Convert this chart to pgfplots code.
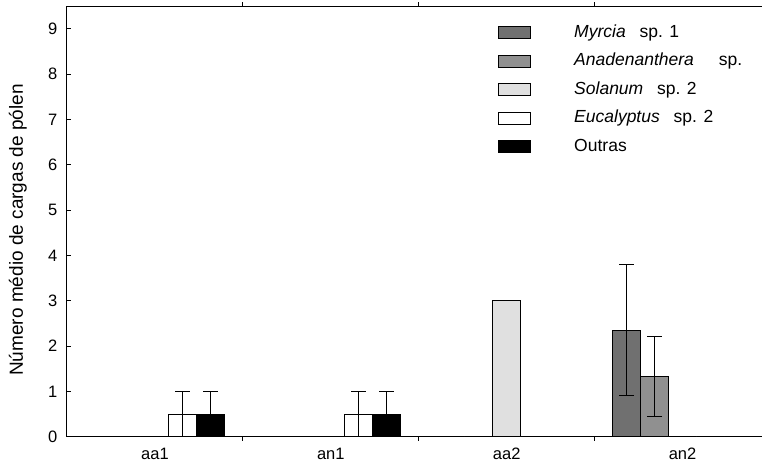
\documentclass[border=0pt]{standalone}
\usepackage{pgfplots}
\pgfplotsset{compat=1.18}
\usepackage{fontspec}
\setmainfont{Liberation Sans}
\definecolor{cMyr}{HTML}{707070}
\definecolor{cAna}{HTML}{909090}
\definecolor{cSol}{HTML}{E0E0E0}
\begin{document}
\fontsize{16.5}{19}\selectfont
\begin{tikzpicture}
\begin{axis}[
  at={(0,0)}, anchor=south west,
  scale only axis, width=703.5pt, height=430.7pt,
  xmin=0, xmax=4, ymin=0, ymax=9.5,
  axis line style={line width=1pt},
  xtick={0.5,1.5,2.5,3.5},
  xticklabels={aa1,an1,aa2,an2},
  major x tick style={draw=none},
  minor xtick={1,2,3},
  minor tick length=4pt,
  major tick length=4pt,
  tick align=inside,
  tick style={black, line width=0.8pt},
  ytick={0,1,...,9},
  /pgf/number format/assume math mode=true,
  yticklabel style={xshift=-4pt},
  xticklabel style={yshift=-2pt},
  ylabel={\fontsize{19}{22}\selectfont Número médio de cargas de pólen},
  ylabel style={at={(axis description cs:-0.0697,0.48)}, anchor=center},
  ybar, bar width=28pt,
  every axis plot/.append style={draw=black, line width=1pt},
  error bars/y dir=both, error bars/y explicit,
  error bars/error mark=|,
  error bars/error mark options={mark size=7.5pt, line width=1pt, black},
  error bars/error bar style={line width=1pt, black},
  legend cell align=left,
  legend image code/.code={\draw[#1, draw=black, line width=1pt] (0pt,-6pt) rectangle (32pt,6pt);},
  legend style={draw=none, fill=none, at={(0.6127,0.9556)}, anchor=north west,
    inner sep=0pt, row sep=13.5pt, font=\fontsize{17.5}{20}\selectfont,
    nodes={inner sep=0pt, text height=12pt, text depth=3pt},
    /tikz/every odd column/.append style={column sep=43pt}},
]
\addplot[fill=cMyr, bar shift=-56pt] coordinates {(0.5,0) +- (0,0) (1.5,0) +- (0,0) (2.5,0) +- (0,0) (3.5,2.35) +- (0,1.45)};
\addplot[fill=cAna, bar shift=-28pt] coordinates {(0.5,0) +- (0,0) (1.5,0) +- (0,0) (2.5,0) +- (0,0) (3.5,1.32) +- (0,0.88)};
\addplot[fill=cSol, bar shift=0pt] coordinates {(0.5,0) +- (0,0) (1.5,0) +- (0,0) (2.5,3.0) +- (0,0) (3.5,0) +- (0,0)};
\addplot[fill=white, bar shift=28pt] coordinates {(0.5,0.5) +- (0,0.5) (1.5,0.5) +- (0,0.5) (2.5,0) +- (0,0) (3.5,0) +- (0,0)};
\addplot[fill=black, bar shift=56pt] coordinates {(0.5,0.5) +- (0,0.5) (1.5,0.5) +- (0,0.5) (2.5,0) +- (0,0) (3.5,0) +- (0,0)};
\legend{\textit{Myrcia}\hspace{9pt} sp. 1, \textit{Anadenanthera}\hspace{20pt} sp., \textit{Solanum}\hspace{9pt} sp. 2, \textit{Eucalyptus}\hspace{9pt} sp. 2, Outras}
\end{axis}
\pgfresetboundingbox
\useasboundingbox (-67pt,-35.3pt) rectangle (695pt,436.7pt);
\end{tikzpicture}
\end{document}
